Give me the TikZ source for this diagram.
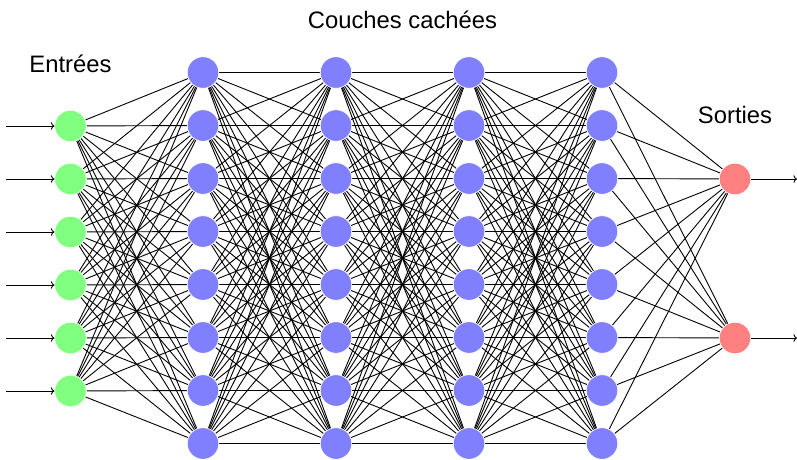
\documentclass[tikz,border=0pt]{standalone}
\usepackage{fontspec}
\setmainfont{Liberation Sans}
\usetikzlibrary{arrows.meta}
\pgfdeclarelayer{background}
\pgfsetlayers{background,main}
\tikzset{
  neuron/.style={circle, minimum size=31.5pt, inner sep=0pt, draw=white, line width=0.6pt},
  inneuron/.style={neuron, fill=green!50},
  hidneuron/.style={neuron, fill=blue!50},
  outneuron/.style={neuron, fill=red!50},
  conn/.style={line width=0.9pt, black},
  lbl/.style={font=\fontsize{23.8}{28}\selectfont, inner sep=0pt}
}
\begin{document}
\begin{tikzpicture}[x=1pt,y=-1pt]
\useasboundingbox (0,0) rectangle (797,459);
% input layer
\foreach \i in {1,...,6} {
  \node[inneuron] (I-\i) at (70.5, {126+53*(\i-1)}) {};
  \coordinate (in-\i) at (6, {126+53*(\i-1)});
}
% hidden layers
\foreach \l/\x in {1/203, 2/336, 3/469, 4/602} {
  \foreach \j in {1,...,8} {
    \node[hidneuron] (H\l-\j) at (\x, {72.5+53*(\j-1)}) {};
  }
}
% output layer
\node[outneuron] (O-1) at (735, 179) {};
\node[outneuron] (O-2) at (735, 338) {};
\coordinate (out-1) at (797, 179);
\coordinate (out-2) at (797, 338);
\begin{pgfonlayer}{background}
  \foreach \i in {1,...,6}
    \foreach \j in {1,...,8}
      \draw[conn] (I-\i) -- (H1-\j);
  \foreach \a/\b in {1/2, 2/3, 3/4}
    \foreach \i in {1,...,8}
      \foreach \j in {1,...,8}
        \draw[conn] (H\a-\i) -- (H\b-\j);
  \foreach \i in {1,...,8}
    \foreach \j in {1,2}
      \draw[conn] (H4-\i) -- (O-\j);
\end{pgfonlayer}
\foreach \i in {1,...,6}
  \draw[conn, ->] (in-\i) -- (I-\i);
\foreach \j in {1,2}
  \draw[conn, ->] (O-\j) -- (out-\j);
% labels
\node[lbl, anchor=base] (lin) at (70.5, 72) {Entrées};
\node[lbl, anchor=base] (lhid) at (402.5, 28) {Couches cachées};
\node[lbl, anchor=base] (lout) at (735, 123) {Sorties};
\end{tikzpicture}
\end{document}
